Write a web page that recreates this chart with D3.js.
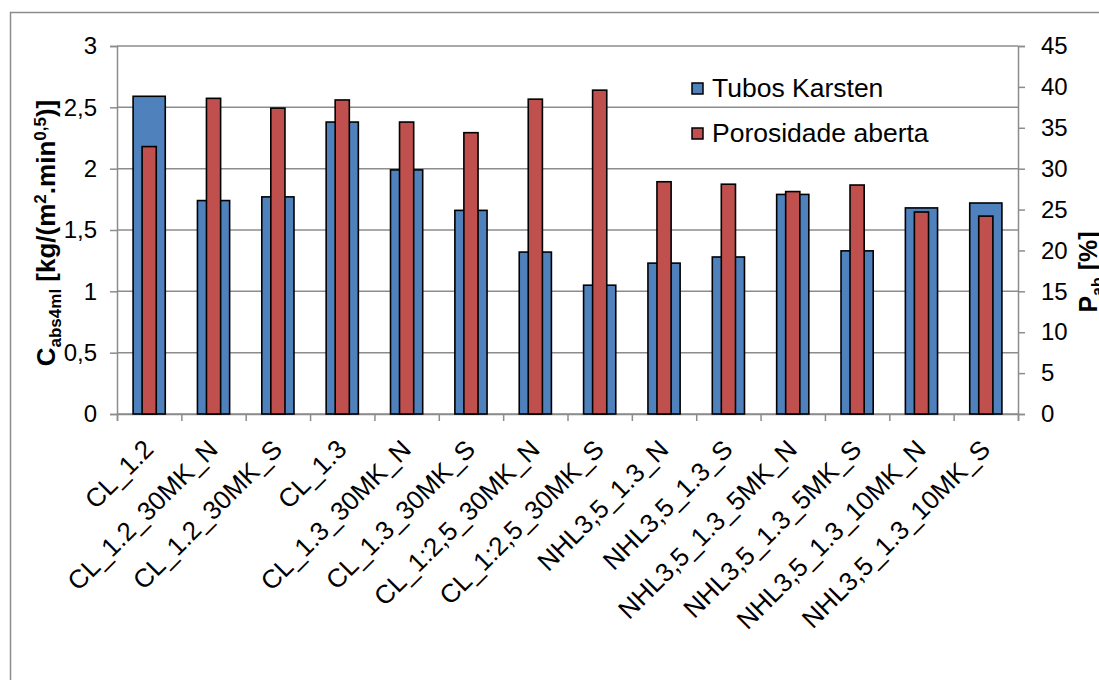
<!DOCTYPE html>
<html><head><meta charset="utf-8">
<script src="https://cdn.jsdelivr.net/npm/d3@7"></script>
<style>
html,body{margin:0;padding:0;background:#fff;}
svg{display:block;font-family:"Liberation Sans",Arial,sans-serif;}
</style></head>
<body>
<svg id="chart" width="1099" height="680"></svg>
<script>
const categories = ["CL_1.2","CL_1.2_30MK_N","CL_1.2_30MK_S","CL_1.3","CL_1.3_30MK_N","CL_1.3_30MK_S","CL_1:2,5_30MK_N","CL_1:2,5_30MK_S","NHL3,5_1.3_N","NHL3,5_1.3_S","NHL3,5_1.3_5MK_N","NHL3,5_1.3_5MK_S","NHL3,5_1.3_10MK_N","NHL3,5_1.3_10MK_S"];
const tubosKarsten = [2.59,1.74,1.77,2.38,1.99,1.66,1.32,1.05,1.23,1.28,1.79,1.33,1.68,1.72];
const porosidadeAberta = [32.7,38.6,37.4,38.4,35.7,34.4,38.5,39.6,28.4,28.1,27.2,28.0,24.7,24.2];
const leftTicks = [0,0.5,1,1.5,2,2.5,3];
const rightTicks = [0,5,10,15,20,25,30,35,40,45];
const seriesNames = ["Tubos Karsten","Porosidade aberta"];
const colors = ["#4F81BD","#C0504D"];

const svg = d3.select("#chart");
const L = 117, R = 1018, T = 46, B = 414;
const grid = "#8c8c8c";

// chart border
svg.append("path").attr("d","M10.5,1000 V12.5 H1200").attr("fill","none").attr("stroke","#8c8c8c").attr("stroke-width",1.5);

const x = d3.scaleBand().domain(categories).range([L,R]).padding(0);
const xi = d3.scaleLinear().domain([0,categories.length]).range([L,R]);
const yL = d3.scaleLinear().domain([0,3]).range([B,T]);
const yR = d3.scaleLinear().domain([0,45]).range([B,T]);
const fmt = d => String(d).replace(".",",");

// gridlines
svg.append("g").selectAll("line").data(leftTicks).join("line")
  .attr("x1",L).attr("x2",R).attr("y1",d=>yL(d)).attr("y2",d=>yL(d))
  .attr("stroke",grid).attr("stroke-width",1.5);

// left axis
const gL = svg.append("g").attr("transform",`translate(${L},0)`)
  .call(d3.axisLeft(yL).tickValues(leftTicks).tickFormat(fmt).tickSize(7).tickPadding(13));
gL.selectAll("line,path").attr("stroke",grid).attr("stroke-width",1.5);
gL.selectAll("text").attr("font-size",24).attr("fill","#000").attr("font-family","Liberation Sans, Arial, sans-serif");

// right axis
const gR = svg.append("g").attr("transform",`translate(${R},0)`)
  .call(d3.axisRight(yR).tickValues(rightTicks).tickSize(7).tickPadding(16));
gR.selectAll("line,path").attr("stroke",grid).attr("stroke-width",1.5);
gR.selectAll("text").attr("font-size",24).attr("fill","#000").attr("font-family","Liberation Sans, Arial, sans-serif");

// bottom axis
const gB = svg.append("g").attr("transform",`translate(0,${B})`)
  .call(d3.axisBottom(xi).tickValues(d3.range(categories.length+1)).tickFormat("").tickSize(7));
gB.selectAll("line,path").attr("stroke",grid).attr("stroke-width",1.5);

// bars
const bw = x.bandwidth();
const wBlue = bw*0.5, wRed = bw*0.22;
svg.append("g").selectAll("rect").data(tubosKarsten).join("rect")
  .attr("x",(d,i)=>x(categories[i])+bw/2-wBlue/2).attr("width",wBlue)
  .attr("y",d=>yL(d)).attr("height",d=>B-yL(d))
  .attr("fill",colors[0]).attr("stroke","#000").attr("stroke-width",1.6);
svg.append("g").selectAll("rect").data(porosidadeAberta).join("rect")
  .attr("x",(d,i)=>x(categories[i])+bw/2-wRed/2).attr("width",wRed)
  .attr("y",d=>yR(d)).attr("height",d=>B-yR(d))
  .attr("fill",colors[1]).attr("stroke","#000").attr("stroke-width",1.6);

// x labels
svg.append("g").selectAll("text").data(categories).join("text")
  .attr("transform",d=>`translate(${x(d)+bw/2-7},${B+24}) rotate(-45)`)
  .attr("text-anchor","end").attr("dy","0.7em")
  .attr("font-size",26).attr("fill","#000").text(d=>d);

// legend
const lg = svg.append("g");
seriesNames.forEach((n,i)=>{
  const yy = 83 + i*45;
  lg.append("rect").attr("x",692).attr("y",yy).attr("width",11).attr("height",11)
    .attr("fill",colors[i]).attr("stroke","#000").attr("stroke-width",1.5);
  lg.append("text").attr("x",712).attr("y",yy+14).attr("font-size",26.5).attr("fill","#000").text(n);
});

// left axis title
const tl = svg.append("text").attr("transform","translate(55,233) rotate(-90)")
  .attr("text-anchor","middle").attr("font-size",26).attr("font-weight","bold").attr("fill","#000");
tl.append("tspan").text("C");
tl.append("tspan").attr("font-size",17).attr("dy",6).text("abs4ml");
tl.append("tspan").attr("dy",-6).text(" [kg/(m");
tl.append("tspan").attr("font-size",17).attr("dy",-9).text("2");
tl.append("tspan").attr("dy",9).text(".min");
tl.append("tspan").attr("font-size",17).attr("dy",-9).text("0,5");
tl.append("tspan").attr("dy",9).text(")]");

// right axis title
const tr = svg.append("text").attr("transform","translate(1097,272) rotate(-90)")
  .attr("text-anchor","middle").attr("font-size",25).attr("font-weight","bold").attr("fill","#000");
tr.append("tspan").text("P");
tr.append("tspan").attr("font-size",16).attr("dy",6).text("ab");
tr.append("tspan").attr("dy",-6).text(" [%]");
</script>
</body></html>
